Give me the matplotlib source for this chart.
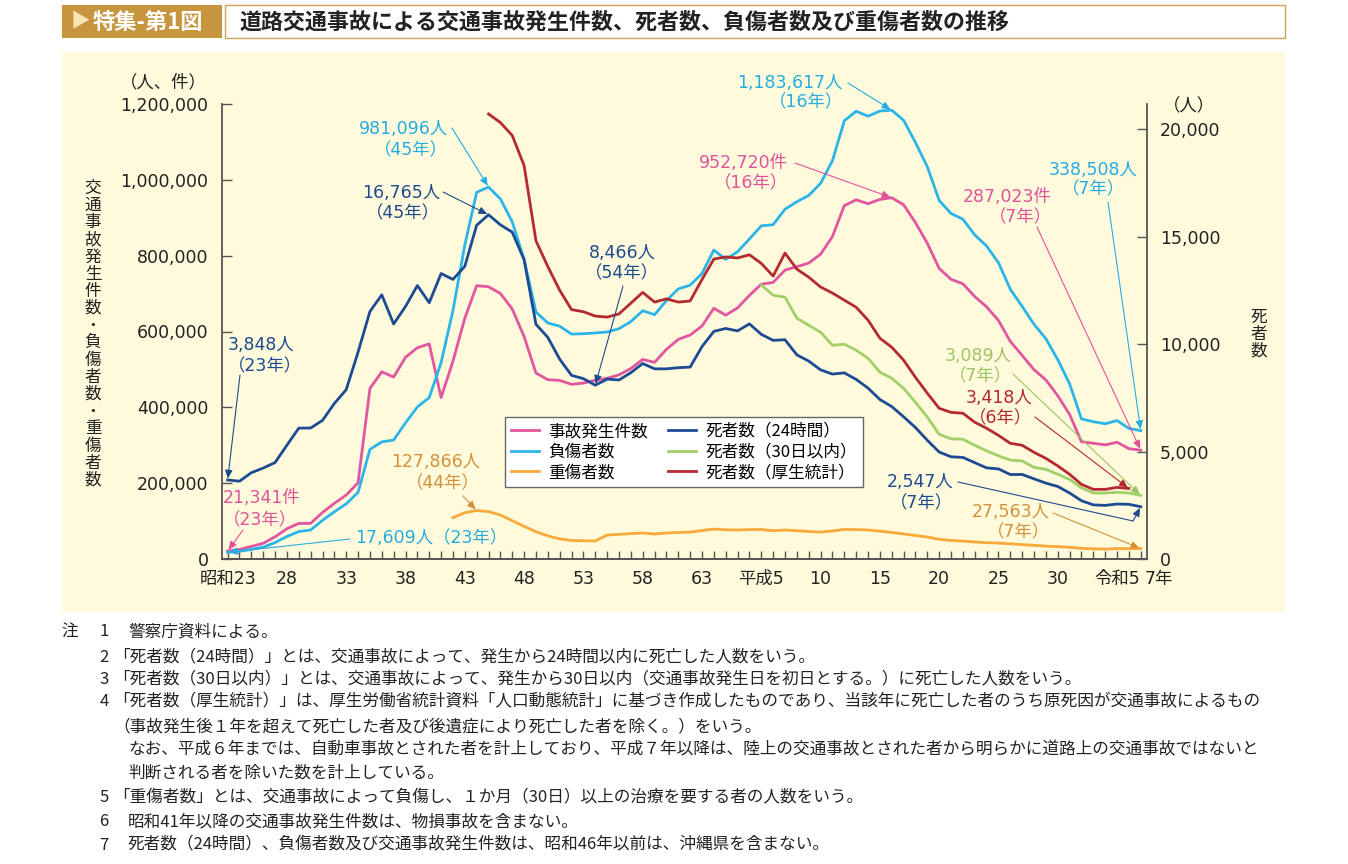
import matplotlib
matplotlib.use("Agg")
import matplotlib.pyplot as plt
import numpy as np
from matplotlib.patches import Rectangle
from matplotlib.lines import Line2D
from matplotlib.transforms import ScaledTranslation

# データ（年は西暦、昭和23年=1948 ～ 令和7年=2025）
years = np.arange(1948, 2026)

# 交通事故発生件数
accidents = [21341, 25113, 33212, 41423, 58487, 80019, 93869, 93981, 122691, 146833,
             168799, 201292, 449917, 493693, 479825, 531966, 557183, 567286, 425944, 521481,
             635056, 720880, 718080, 700290, 659283, 586713, 490452, 472938, 471041, 460649,
             464037, 471573, 476677, 485578, 502261, 526362, 518642, 552788, 579190, 590723,
             614481, 661363, 643097, 662392, 695345, 724678, 729461, 761794, 771085, 780401,
             803878, 850371, 931950, 947253, 936950, 948281, 952720, 934346, 887267, 832704,
             766394, 737637, 725924, 692084, 665157, 629033, 573842, 536899, 499201, 472165,
             430601, 381237, 309178, 305196, 300839, 307930, 290895, 287023]

# 負傷者数
injured = [17609, 20242, 25450, 31274, 43321, 59280, 72390, 76501, 102072, 124530,
           145432, 175951, 289156, 308697, 313813, 359089, 401117, 425666, 517775, 655377,
           828071, 967000, 981096, 949689, 889198, 789948, 651420, 622467, 613957, 593211,
           594116, 596282, 598719, 607346, 626192, 654822, 644321, 681346, 712330, 722179,
           752845, 814832, 790295, 810245, 844003, 878633, 881723, 922677, 942204, 958925,
           990675, 1050399, 1155697, 1180955, 1167855, 1181431, 1183617, 1157113, 1098564, 1034652,
           945703, 911215, 896297, 854613, 825392, 781492, 711374, 666023, 618853, 580850,
           525846, 461775, 369476, 362131, 356601, 365027, 344395, 338508]

# 死者数（24時間）: 図の右軸から読んだ値
deaths_24h = [3675, 3619, 4013, 4230, 4485, 5295, 6087, 6092, 6447, 7234,
              7877, 9625, 11513, 12286, 10930, 11747, 12719, 11922, 13278, 13005,
              13614, 15525, 16011, 15545, 15202, 13918, 10918, 10306, 9296, 8542,
              8388, 8085, 8366, 8327, 8665, 9092, 8845, 8844, 8898, 8926,
              9879, 10587, 10722, 10609, 10936, 10450, 10170, 10198, 9495, 9206,
              8797, 8601, 8658, 8353, 7951, 7418, 7091, 6615, 6115, 5522,
              4975, 4755, 4725, 4480, 4238, 4191, 3928, 3932, 3728, 3528,
              3373, 3070, 2711, 2517, 2493, 2557, 2543, 2432]

# 重傷者数（昭和42年～）
serious_years = np.arange(1967, 2026)
serious = [109000, 122000, 127866, 125000, 116000, 101000, 86000, 72000, 61000, 53000,
           49000, 48000, 47500, 63000, 65000, 67000, 68500, 66000, 68500, 70000,
           71000, 75000, 79000, 77000, 76500, 77500, 78000, 74500, 76500, 74500,
           72500, 71000, 74000, 78000, 77500, 76500, 73500, 70000, 66000, 62000,
           58000, 52000, 49000, 47000, 45000, 43000, 42000, 40000, 38000, 36000,
           34000, 32500, 31000, 28000, 27000, 26000, 27500, 27200, 27563]

# 死者数（厚生統計）（昭和45年～令和6年）
vital_years = np.arange(1970, 2025)
deaths_vital = [20700, 20300, 19700, 18300, 14800, 13600, 12500, 11600, 11500, 11300,
                11250, 11400, 11900, 12400, 11950, 12100, 11950, 12000, 13000, 13950,
                14050, 14000, 14150, 13750, 13160, 14230, 13480, 13110, 12650, 12370,
                12040, 11710, 11110, 10270, 9850, 9250, 8450, 7710, 7010, 6820,
                6780, 6360, 6080, 5750, 5380, 5290, 4960, 4680, 4330, 3940,
                3470, 3240, 3240, 3330, 3280]

# 死者数（30日以内）（平成5年～）
d30_years = np.arange(1993, 2026)
deaths_30d = [12740, 12270, 12180, 11200, 10870, 10550, 9940, 9990, 9710, 9340,
              8690, 8410, 7940, 7290, 6600, 5800, 5590, 5570, 5290, 5030,
              4800, 4600, 4560, 4260, 4170, 3940, 3700, 3310, 3070, 3070,
              3100, 3070, 2960]

tick_years = [1948, 1953, 1958, 1963, 1968, 1973, 1978, 1983, 1988,
              1993, 1998, 2003, 2008, 2013, 2018, 2023, 2025]
tick_labels = ["昭和23", "28", "33", "38", "43", "48", "53", "58", "63",
               "平成5", "10", "15", "20", "25", "30", "令和5", "7年"]

series_names = ["事故発生件数", "負傷者数", "重傷者数",
                "死者数（24時間）", "死者数（30日以内）", "死者数（厚生統計）"]

title = "道路交通事故による交通事故発生件数、死者数、負傷者数及び重傷者数の推移"
notes = [
    ("注", "1", "警察庁資料による。"),
    ("", "2", "「死者数（24時間）」とは、交通事故によって、発生から24時間以内に死亡した人数をいう。"),
    ("", "3", "「死者数（30日以内）」とは、交通事故によって、発生から30日以内（交通事故発生日を初日とする。）に死亡した人数をいう。"),
    ("", "4", "「死者数（厚生統計）」は、厚生労働省統計資料「人口動態統計」に基づき作成したものであり、当該年に死亡した者のうち原死因が交通事故によるもの"),
    ("", "", "（事故発生後１年を超えて死亡した者及び後遺症により死亡した者を除く。）をいう。"),
    ("", "", "なお、平成６年までは、自動車事故とされた者を計上しており、平成７年以降は、陸上の交通事故とされた者から明らかに道路上の交通事故ではないと"),
    ("", "", "判断される者を除いた数を計上している。"),
    ("", "5", "「重傷者数」とは、交通事故によって負傷し、１か月（30日）以上の治療を要する者の人数をいう。"),
    ("", "6", "昭和41年以降の交通事故発生件数は、物損事故を含まない。"),
    ("", "7", "死者数（24時間）、負傷者数及び交通事故発生件数は、昭和46年以前は、沖縄県を含まない。"),
]

# 色
C_PINK, C_LBLUE, C_ORANGE = "#E2569F", "#2BB5E8", "#F7AA3A"
C_NAVY, C_GREEN, C_RED = "#1C4B93", "#A2CF68", "#B52A30"
T_PINK, T_LBLUE, T_ORANGE = "#E0539B", "#27ACE0", "#D4913A"
T_NAVY, T_GREEN, T_RED = "#1E4A8E", "#9BC465", "#B3282E"

JP = ["Noto Sans CJK JP", "DejaVu Sans"]
NUM = ["DejaVu Sans", "Noto Sans CJK JP"]
plt.rcParams["font.family"] = NUM

W, H = 1348, 864
fig = plt.figure(figsize=(W / 100, H / 100), dpi=100)


def fx(px):
    return px / W


def fy(py):
    return 1 - py / H


# 見出し
fig.add_artist(Rectangle((fx(62), fy(38)), fx(222) - fx(62), fy(5) - fy(38),
                         transform=fig.transFigure, facecolor="#C8953F", edgecolor="none"))
fig.add_artist(Rectangle((fx(225), fy(38)), fx(1285) - fx(225), fy(5) - fy(38),
                         transform=fig.transFigure, facecolor="white", edgecolor="#C9A45A", lw=1))
fig.text(fx(80), fy(22), "▶", color="#F8E4B4", fontsize=14, ha="center", va="center", family=JP)
fig.text(fx(93), fy(22), "特集-第1図", color="white", fontsize=16, fontweight="bold",
         ha="left", va="center", family=JP)
fig.text(fx(240), fy(22), title, color="#222222", fontsize=15.8, fontweight="bold",
         ha="left", va="center", family=JP)

# 背景パネル
fig.add_artist(Rectangle((fx(62), fy(612)), fx(1285) - fx(62), fy(52) - fy(612),
                         transform=fig.transFigure, facecolor="#FFFADC", edgecolor="none", zorder=-1))

ax = fig.add_axes([fx(221.7), fy(559), fx(1146.7) - fx(221.7), fy(104) - fy(559)])
ax.set_facecolor("none")
ax2 = ax.twinx()

l1, = ax.plot(years, accidents, color=C_PINK, lw=2.0)
l2, = ax.plot(years, injured, color=C_LBLUE, lw=2.0)
l3, = ax.plot(serious_years, serious, color=C_ORANGE, lw=2.0)
l4, = ax2.plot(years, deaths_24h, color=C_NAVY, lw=2.0)
l5, = ax2.plot(d30_years, deaths_30d, color=C_GREEN, lw=2.0)
l6, = ax2.plot(vital_years, deaths_vital, color=C_RED, lw=2.0)

ax.set_xlim(1947.5, 2025.5)
ax.set_ylim(0, 1200000)
ax2.set_ylim(0, 21163)

for a in (ax, ax2):
    a.spines["top"].set_visible(False)
    for s in ("left", "right", "bottom"):
        a.spines[s].set_color("#555555")
        a.spines[s].set_linewidth(1.3)
ax.spines["right"].set_visible(False)
ax2.spines["left"].set_visible(False)

ax.set_xticks(tick_years)
ax.set_xticklabels(tick_labels)
ax.set_xticks(years, minor=True)
ax.tick_params(axis="x", which="both", direction="in", length=6, width=1,
               color="#555555", pad=8, labelsize=12.5, labelcolor="#222222")

ax.set_yticks(np.arange(0, 1200001, 200000))
ax.set_yticklabels([f"{v:,}" for v in range(0, 1200001, 200000)])
ax.tick_params(axis="y", direction="in", length=7, width=1, color="#555555",
               pad=9.5, labelsize=12.5, labelcolor="#222222")
ax2.set_yticks(np.arange(0, 20001, 5000))
ax2.set_yticklabels([f"{v:,}" for v in range(0, 20001, 5000)])
ax2.tick_params(axis="y", direction="in", length=7, width=1, color="#555555",
                pad=9.5, labelsize=12.5, labelcolor="#222222")

# 最後の「7年」は左寄せで少し右へ
last = ax.xaxis.get_major_ticks()[-1].label1
last.set_horizontalalignment("left")
last.set_transform(last.get_transform() + ScaledTranslation(3 / 72, 0, fig.dpi_scale_trans))

# 軸の単位と縦書きラベル
fig.text(fx(163), fy(82), "（人、件）", fontsize=12.5, ha="center", va="center", color="#222222")
fig.text(fx(1189), fy(106), "（人）", fontsize=12.5, ha="center", va="center", color="#222222")
ylabel_left = "交通事故発生件数・負傷者数・重傷者数"
for i, ch in enumerate(ylabel_left):
    fig.text(fx(93), fy(188 + i * 17.2), ch, fontsize=12, ha="center", va="center",
             color="#222222", family=JP)
for i, ch in enumerate("死者数"):
    fig.text(fx(1259), fy(317 + i * 17), ch, fontsize=12, ha="center", va="center",
             color="#222222", family=JP)

# 凡例
leg = ax2.legend([l1, l2, l3, l4, l5, l6], series_names, ncol=2,
                 loc="upper left", bbox_to_anchor=(fx(505), fy(417)), bbox_transform=fig.transFigure,
                 prop={"family": JP, "size": 12}, frameon=True, fancybox=False, framealpha=1,
                 edgecolor="#666666", borderpad=0.35, labelspacing=0.22, handlelength=1.7,
                 handletextpad=0.55, columnspacing=1.2, borderaxespad=0)
leg.get_frame().set_linewidth(1.0)

# 注記ラベル
labels = [
    (("981,096人", "（45年）"), 448, (129, 150), "right", T_LBLUE),
    (("16,765人", "（45年）"), 440, (193, 213), "right", T_NAVY),
    (("3,848人", "（23年）"), 228, (345, 366), "left", T_NAVY),
    (("21,341件", "（23年）"), 223, (498, 520), "left", T_PINK),
    (("17,609人（23年）",), 355, (538,), "left", T_LBLUE),
    (("127,866人", "（44年）"), 480, (462, 483), "right", T_ORANGE),
    (("8,466人", "（54年）"), 622, (253, 273), "center", T_NAVY),
    (("1,183,617人", "（16年）"), 843, (83, 102), "right", T_LBLUE),
    (("952,720件", "（16年）"), 788, (163, 183), "right", T_PINK),
    (("338,508人", "（7年）"), 1093, (170, 189), "center", T_LBLUE),
    (("287,023件", "（7年）"), 1052, (197, 217), "right", T_PINK),
    (("3,089人", "（7年）"), 1012, (356, 376), "right", T_GREEN),
    (("3,418人", "（6年）"), 1032, (398, 418), "right", T_RED),
    (("2,547人", "（7年）"), 953, (482, 503), "right", T_NAVY),
    (("27,563人", "（7年）"), 1050, (512, 532), "right", T_ORANGE),
]
for lines, x, ys, ha, col in labels:
    for line, y in zip(lines, ys):
        fig.text(fx(x), fy(y), line, fontsize=12.5, ha=ha, va="center", color=col, zorder=5)

arrows = [
    ((452, 128), ax, (1970, injured[22]), T_LBLUE),
    ((443, 192), ax2, (1970, deaths_24h[22]), T_NAVY),
    ((240, 375), ax2, (1948, deaths_24h[0]), T_NAVY),
    ((243, 530), ax, (1948, accidents[0]), T_PINK),
    ((350, 539), ax, (1948, injured[0]), T_LBLUE),
    ((463, 496), ax, (1969, serious[2]), T_ORANGE),
    ((623, 286), ax2, (1979, deaths_24h[31]), T_NAVY),
    ((848, 83), ax, (2004, injured[56]), T_LBLUE),
    ((795, 163), ax, (2004, accidents[56]), T_PINK),
    ((1108, 202), ax, (2025, injured[-1]), T_LBLUE),
    ((1037, 227), ax, (2025, accidents[-1]), T_PINK),
    ((1013, 374), ax2, (2025, deaths_30d[-1]), T_GREEN),
    ((1035, 417), ax2, (2024, deaths_vital[-1]), T_RED),
    ((1133, 521), ax2, (2025, deaths_24h[-1]), T_NAVY),
    ((1053, 513), ax, (2025, serious[-1]), T_ORANGE),
]
for (sx, sy), a, xy, col in arrows:
    ax2.annotate("", xy=xy, xycoords=a.transData, xytext=(fx(sx), fy(sy)),
                 textcoords="figure fraction", annotation_clip=False,
                 arrowprops=dict(arrowstyle="-|>,head_length=0.5,head_width=0.22", color=col,
                                 lw=0.8, shrinkA=0, shrinkB=1))
fig.add_artist(Line2D([fx(958), fx(1133)], [fy(482), fy(521)], transform=fig.transFigure,
                      color=T_NAVY, lw=0.8))

# 注
note_ys = [632, 657, 679, 702, 727, 750, 773, 798, 822, 845]
for (head, num, body), y in zip(notes, note_ys):
    if head:
        fig.text(fx(70), fy(y), head, fontsize=12, ha="center", va="center", color="#222222", family=JP)
    if num:
        fig.text(fx(104), fy(y), num, fontsize=12, ha="center", va="center", color="#222222", family=JP)
    x0 = 113 if body[0] in "「（" else 128
    fig.text(fx(x0), fy(y), body, fontsize=12, ha="left", va="center", color="#222222", family=JP)

fig.savefig("out.png", dpi=100)
